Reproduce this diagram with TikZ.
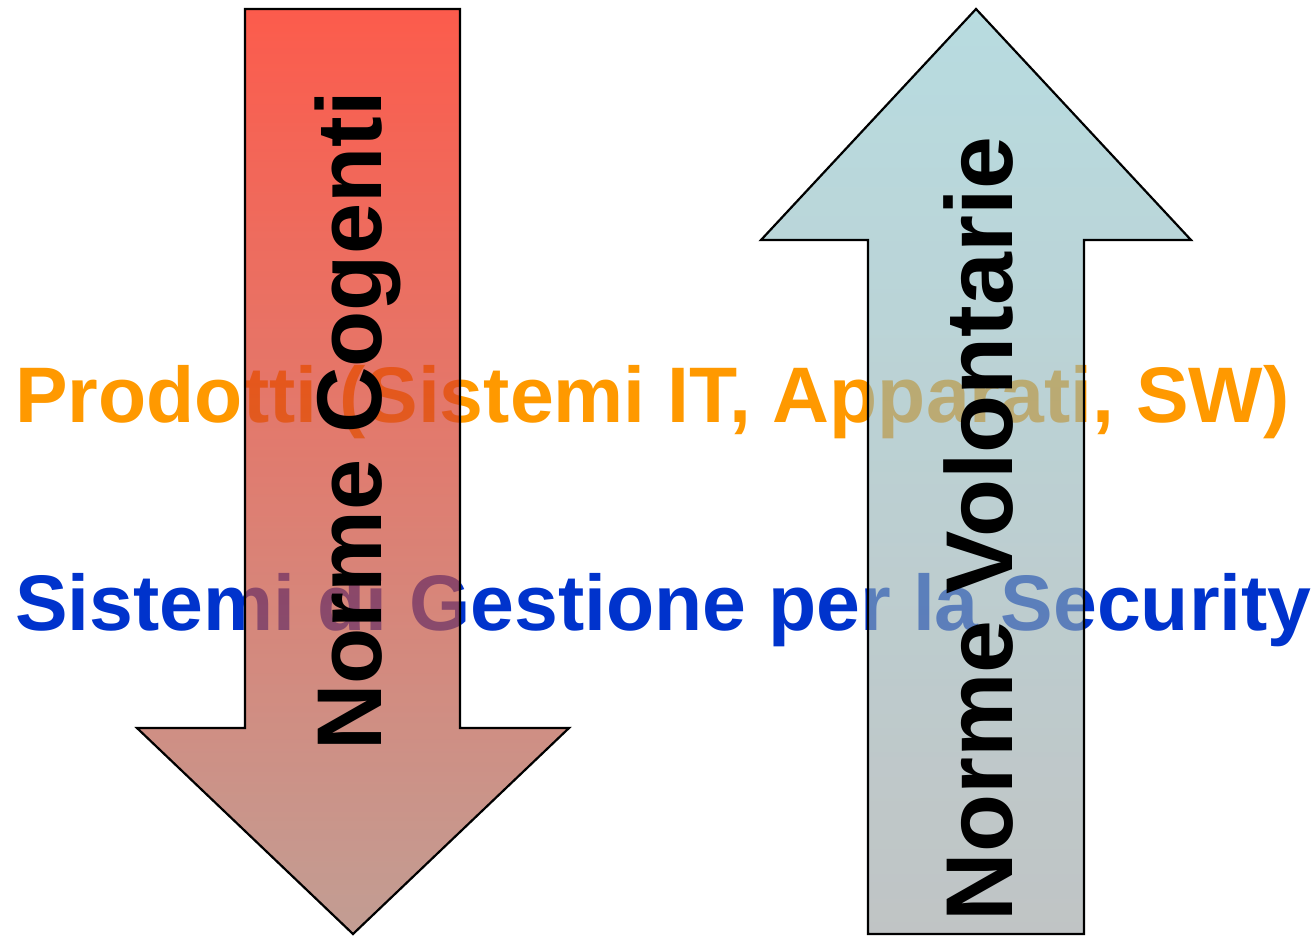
\documentclass[tikz,border=0pt]{standalone}
\usepackage{fontspec}
\setmainfont{Liberation Sans}
\definecolor{prodorange}{RGB}{255,153,0}
\definecolor{secblue}{RGB}{0,51,204}
% down arrow (cogenti)
\definecolor{coghigh}{RGB}{251,22,0}
\definecolor{cogmid}{RGB}{182,54,11}
\definecolor{coglow}{RGB}{168,116,102}
% up arrow (volontarie)
\definecolor{volhigh}{RGB}{140,198,205}
\definecolor{volmid}{RGB}{116,143,148}
\definecolor{vollow}{RGB}{153,160,161}
\begin{document}
\begin{tikzpicture}[x=0.5pt,y=-0.5pt,line join=miter,
  rowtext/.style={inner sep=0pt,anchor=base west,font=\bfseries\fontsize{39.4}{39.4}\selectfont},
  normtext/.style={inner sep=0pt,rotate=90,font=\bfseries\fontsize{#1}{#1}\selectfont},
  pointer/.style={draw=black,line width=1.1pt,fill opacity=#1}]
\useasboundingbox (0,0) rectangle (1316,936);
%%
\node (prodotti) at (15,422) [rowtext,text=prodorange] {Prodotti (Sistemi IT, Apparati, SW)};
\node (sistemi) at (15,630) [rowtext,text=secblue] {Sistemi di Gestione per la Security};
%
\path [pointer=0.7,top color=coghigh,middle color=cogmid,bottom color=coglow]
  (245,9) -- (460,9) -- (460,728) -- (569,728) -- (353,934) -- (137,728) -- (245,728) -- cycle;
\path [pointer=0.62,top color=volhigh,middle color=volmid,bottom color=vollow]
  (976,9) -- (1191,240) -- (1084,240) -- (1084,934) -- (868,934) -- (868,240) -- (761,240) -- cycle;
%
\node (cogenti) at (358,421) [normtext=46] {Norme Cogenti};
\node (volontarie) at (979,529) [normtext=47.5] {Norme Volontarie};
%
\end{tikzpicture}
\end{document}
